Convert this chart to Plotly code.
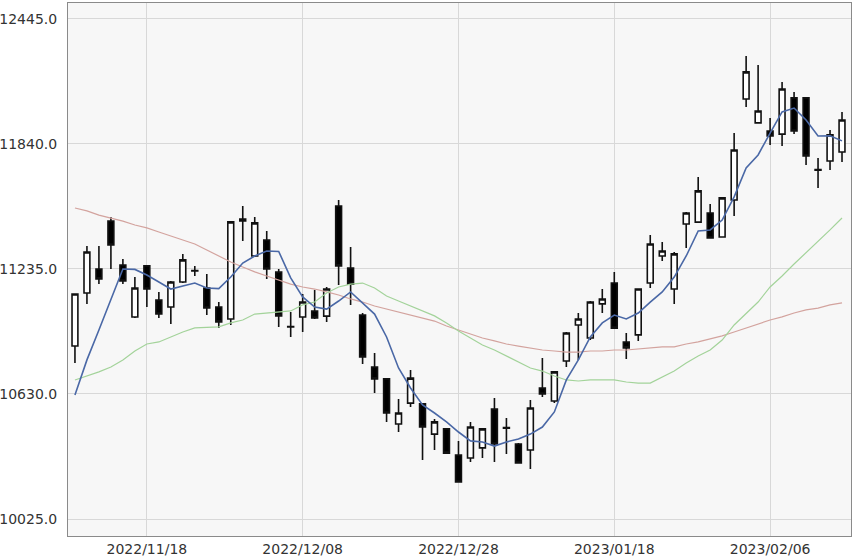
import plotly.graph_objects as go

dates = [
    "2022/11/10", "2022/11/11", "2022/11/14", "2022/11/15", "2022/11/16", "2022/11/17",
    "2022/11/18", "2022/11/21", "2022/11/22", "2022/11/24", "2022/11/25", "2022/11/28",
    "2022/11/29", "2022/11/30", "2022/12/01", "2022/12/02", "2022/12/05", "2022/12/06",
    "2022/12/07", "2022/12/08", "2022/12/09", "2022/12/12", "2022/12/13", "2022/12/14",
    "2022/12/15", "2022/12/16", "2022/12/19", "2022/12/20", "2022/12/21", "2022/12/22",
    "2022/12/23", "2022/12/27", "2022/12/28", "2022/12/29", "2022/12/30", "2023/01/04",
    "2023/01/05", "2023/01/06", "2023/01/09", "2023/01/10", "2023/01/11", "2023/01/12",
    "2023/01/13", "2023/01/16", "2023/01/17", "2023/01/18", "2023/01/19", "2023/01/20",
    "2023/01/23", "2023/01/24", "2023/01/25", "2023/01/26", "2023/01/27", "2023/01/30",
    "2023/01/31", "2023/02/01", "2023/02/02", "2023/02/03", "2023/02/06", "2023/02/07",
    "2023/02/08", "2023/02/09", "2023/02/10", "2023/02/13", "2023/02/14",
]

open_ = [10862, 11119, 11235, 11467, 11254, 11003, 11250, 11085, 11051, 11172,
         11228, 11143, 11051, 10993, 11467, 11298, 11375, 11220, 10957, 11003,
         11032, 11007, 11540, 11240, 11012, 10761, 10703, 10485, 10586, 10582,
         10436, 10461, 10335, 10320, 10369, 10557, 10468, 10388, 10359, 10659,
         10596, 10790, 10964, 10901, 11066, 11167, 10882, 10916, 11167, 11298,
         11138, 11453, 11462, 11506, 11390, 11569, 12058, 11942, 11903, 11888,
         12063, 12063, 11716, 11758, 11801]
high = [11116, 11346, 11346, 11487, 11283, 11196, 11254, 11124, 11177, 11308,
        11250, 11211, 11075, 11467, 11540, 11487, 11419, 11235, 11027, 11114,
        11133, 11148, 11569, 11342, 11022, 10828, 10707, 10606, 10746, 10586,
        10509, 10465, 10403, 10495, 10465, 10611, 10514, 10393, 10601, 10804,
        10741, 10930, 11022, 11080, 11138, 11221, 10925, 11140, 11400, 11366,
        11317, 11511, 11680, 11550, 11581, 11893, 12266, 12222, 11966, 12140,
        12092, 12065, 11772, 11908, 11995]
low = [10780, 11066, 11162, 11235, 11162, 10998, 11051, 10998, 10969, 11167,
       11201, 11012, 10949, 10964, 11371, 11293, 11187, 10954, 10906, 10930,
       10993, 10979, 11158, 11061, 10775, 10635, 10495, 10446, 10567, 10311,
       10359, 10340, 10202, 10301, 10320, 10301, 10340, 10294, 10267, 10616,
       10586, 10761, 10795, 10891, 11022, 10947, 10799, 10887, 11143, 11274,
       11066, 11337, 11460, 11383, 11388, 11492, 12019, 11940, 11835, 11830,
       11888, 11738, 11627, 11714, 11753]
close = [11114, 11317, 11187, 11351, 11177, 11143, 11138, 11017, 11172, 11279,
         11225, 11046, 10979, 11463, 11477, 11458, 11235, 11008, 10954, 11075,
         10998, 11138, 11250, 11162, 10809, 10703, 10538, 10538, 10707, 10470,
         10495, 10344, 10204, 10470, 10461, 10388, 10465, 10296, 10562, 10630,
         10737, 10925, 10993, 11075, 11090, 10949, 10853, 11138, 11356, 11322,
         11308, 11506, 11613, 11385, 11579, 11811, 12189, 12000, 11879, 12106,
         11903, 11782, 11713, 11884, 11956]

ma5 = [10625, 10795, 10940, 11085, 11235, 11233, 11206, 11172, 11138, 11153,
       11167, 11143, 11140, 11196, 11264, 11298, 11322, 11320, 11192, 11100,
       11051, 11041, 11080, 11124, 11071, 11017, 10906, 10756, 10659, 10577,
       10538, 10495, 10446, 10403, 10398, 10378, 10398, 10412, 10436, 10470,
       10543, 10698, 10795, 10906, 10974, 11012, 10993, 11022, 11075, 11124,
       11196, 11298, 11419, 11424, 11472, 11584, 11724, 11787, 11893, 11995,
       12014, 11956, 11879, 11880, 11855]
ma25 = [10698, 10717, 10737, 10761, 10795, 10838, 10872, 10882, 10906, 10930,
        10950, 10954, 10955, 10974, 10988, 11017, 11022, 11027, 11032, 11061,
        11075, 11119, 11148, 11162, 11167, 11143, 11104, 11080, 11056, 11032,
        11008, 10974, 10935, 10901, 10867, 10843, 10814, 10785, 10756, 10741,
        10717, 10698, 10693, 10698, 10698, 10698, 10688, 10683, 10683, 10712,
        10741, 10780, 10814, 10843, 10891, 10964, 11022, 11075, 11148, 11201,
        11259, 11313, 11371, 11424, 11482]
ma75 = [11530, 11516, 11496, 11482, 11467, 11448, 11434, 11414, 11395, 11375,
        11356, 11327, 11298, 11269, 11245, 11221, 11201, 11182, 11162, 11148,
        11138, 11124, 11109, 11090, 11075, 11056, 11041, 11027, 11012, 10998,
        10983, 10959, 10940, 10920, 10901, 10887, 10872, 10862, 10853, 10843,
        10838, 10833, 10833, 10838, 10838, 10843, 10843, 10848, 10853, 10858,
        10858, 10872, 10882, 10896, 10911, 10930, 10950, 10969, 10988, 11003,
        11022, 11037, 11046, 11061, 11071]

y_ticks = [10025.0, 10630.0, 11235.0, 11840.0, 12445.0]
x_ticks = ["2022/11/18", "2022/12/08", "2022/12/28", "2023/01/18", "2023/02/06"]

fig = go.Figure()
fig.add_trace(go.Candlestick(
    x=dates, open=open_, high=high, low=low, close=close,
    increasing=dict(line=dict(color="#111111", width=1.6), fillcolor="#ffffff"),
    decreasing=dict(line=dict(color="#111111", width=1.6), fillcolor="#000000"),
    whiskerwidth=0, showlegend=False, hoverinfo="x+y",
))
fig.add_trace(go.Scatter(x=dates, y=ma75, mode="lines",
                         line=dict(color="#d3a39e", width=1.2), showlegend=False))
fig.add_trace(go.Scatter(x=dates, y=ma25, mode="lines",
                         line=dict(color="#a3d39a", width=1.2), showlegend=False))
fig.add_trace(go.Scatter(x=dates, y=ma5, mode="lines",
                         line=dict(color="#4a68a6", width=1.6), showlegend=False))

fig.update_layout(
    width=853, height=556,
    margin=dict(l=68, r=2, t=3, b=20),
    paper_bgcolor="#ffffff",
    plot_bgcolor="#f7f7f7",
    showlegend=False,
    boxgap=0.3,
    xaxis=dict(
        type="category", automargin=False,
        rangeslider=dict(visible=False),
        range=[-0.58, 64.75],
        tickmode="array", tickvals=x_ticks, ticktext=x_ticks,
        showgrid=True, gridcolor="#d8d8d8", gridwidth=1,
        showline=True, linecolor="#8a8a8a", linewidth=1, mirror=True,
        ticks="", ticklabelstandoff=0,
        tickfont=dict(family="DejaVu Sans", size=14, color="#333333"),
        zeroline=False,
    ),
    yaxis=dict(
        automargin=False,
        range=[9942.7, 12522.4],
        tickmode="array", tickvals=y_ticks,
        ticktext=[f"{v:.1f}" for v in y_ticks],
        showgrid=True, gridcolor="#d8d8d8", gridwidth=1,
        showline=True, linecolor="#8a8a8a", linewidth=1, mirror=True,
        ticks="", ticklabelstandoff=7,
        tickfont=dict(family="DejaVu Sans", size=14, color="#333333"),
        zeroline=False,
    ),
)

fig.write_html("out.html")
